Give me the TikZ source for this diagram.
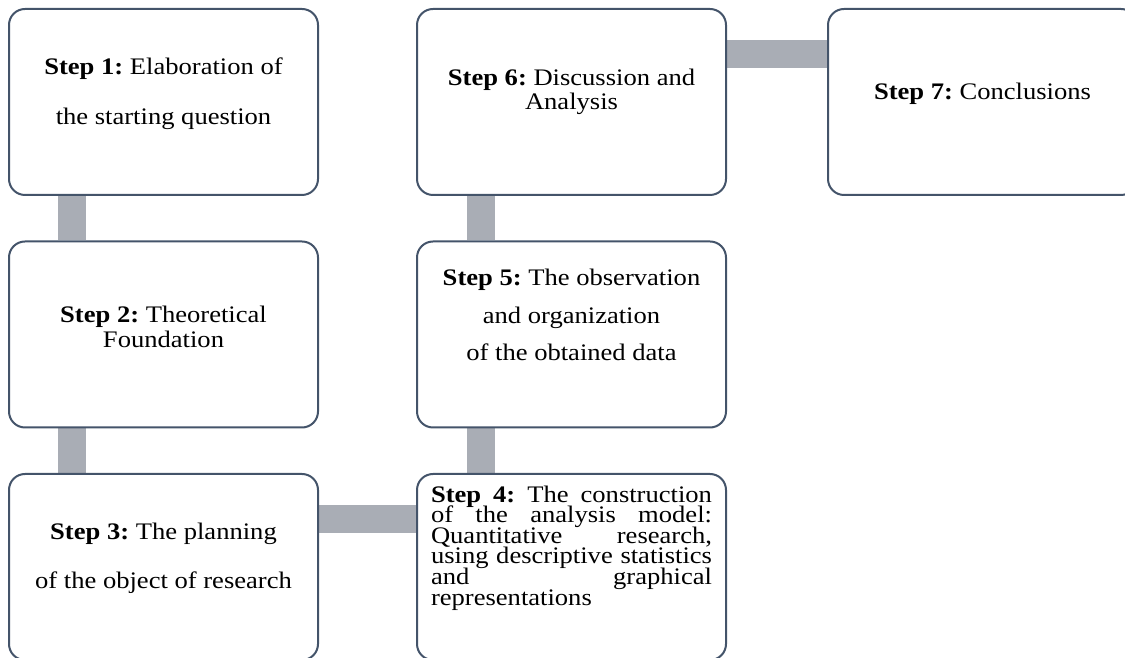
\documentclass[tikz,border=0pt]{standalone}
\usepackage{fontspec}
\setmainfont{Liberation Serif}[FakeStretch=1.12]
\usepackage{xcolor}
\usepackage{tikz}
\usetikzlibrary{backgrounds}
\frenchspacing
% allow tight line spacing inside the boxes
\setlength{\lineskiplimit}{-20pt}

\definecolor{boxline}{RGB}{68,84,106}
\definecolor{linkgray}{RGB}{169,173,181}

\begin{document}
\begin{tikzpicture}[
    stepbox/.style={rectangle, rounded corners=0.32cm, draw=boxline, line width=0.04cm, fill=white, minimum width=6.18cm, minimum height=3.72cm},
    steptext/.style={align=center, inner sep=0pt, font=\fontsize{13.5}{#1}\selectfont},
    steptext/.default=14.2,
    longtext/.style={align=justify, inner sep=0pt, text width=5.62cm,
        execute at begin node={\setlength{\lineskiplimit}{-20pt}\fontsize{13.5}{11.7}\selectfont}},
    link/.style={draw=linkgray, line width=0.56cm}
]
\useasboundingbox (0,0) rectangle (22.5,13.14);

% First column: steps 1 to 3
\node[stepbox] (s1) at (3.27,11.10) {};
\node[stepbox] (s2) at (3.27,6.45) {};
\node[stepbox] (s3) at (3.27,1.80) {};

% Second column: steps 4 to 6
\node[stepbox] (s4) at (11.43,1.80) {};
\node[stepbox] (s5) at (11.43,6.45) {};
\node[stepbox] (s6) at (11.43,11.10) {};

% Last step on the right
\node[stepbox] (s7) at (19.65,11.10) {};

% Texts of the steps
\node[steptext=28.5] (t1) at ([yshift=0.16cm]s1.center) {\textbf{Step 1:} Elaboration of\\the starting question};
\node[steptext] (t2) at ([yshift=0.15cm]s2.center) {\textbf{Step 2:} Theoretical\\Foundation};
\node[steptext=27.8] (t3) at ([yshift=0.17cm]s3.center) {\textbf{Step 3:} The planning\\of the object of research};
\node[longtext] (t4) at ([yshift=0.38cm]s4.center)
    {\textbf{Step 4:} The construction\linebreak of the analysis model:\linebreak Quantitative research,\linebreak using descriptive statistics\linebreak and graphical\linebreak representations};
\node[steptext=21.3] (t5) at ([yshift=0.39cm]s5.center) {\textbf{Step 5:} The observation\\and organization\\of the obtained data};
\node[steptext=13.6] (t6) at ([yshift=0.2cm]s6.center) {\textbf{Step 6:} Discussion and\\Analysis};
\node[steptext] (t7) at ([yshift=0.16cm]s7.center) {\textbf{Step 7:} Conclusions};

% Grey bars joining the steps
\begin{scope}[on background layer]
\draw[link] ([xshift=1.28cm]s1.south west) -- ([xshift=1.28cm]s2.north west);
\draw[link] ([xshift=1.28cm]s2.south west) -- ([xshift=1.28cm]s3.north west);
\draw[link] ([yshift=-0.93cm]s3.north east) -- ([yshift=-0.93cm]s4.north west);
\draw[link] ([xshift=1.29cm]s4.north west) -- ([xshift=1.29cm]s5.south west);
\draw[link] ([xshift=1.29cm]s5.north west) -- ([xshift=1.29cm]s6.south west);
\draw[link] ([yshift=-0.92cm]s6.north east) -- ([yshift=-0.92cm]s7.north west);
\end{scope}

\end{tikzpicture}
\end{document}
